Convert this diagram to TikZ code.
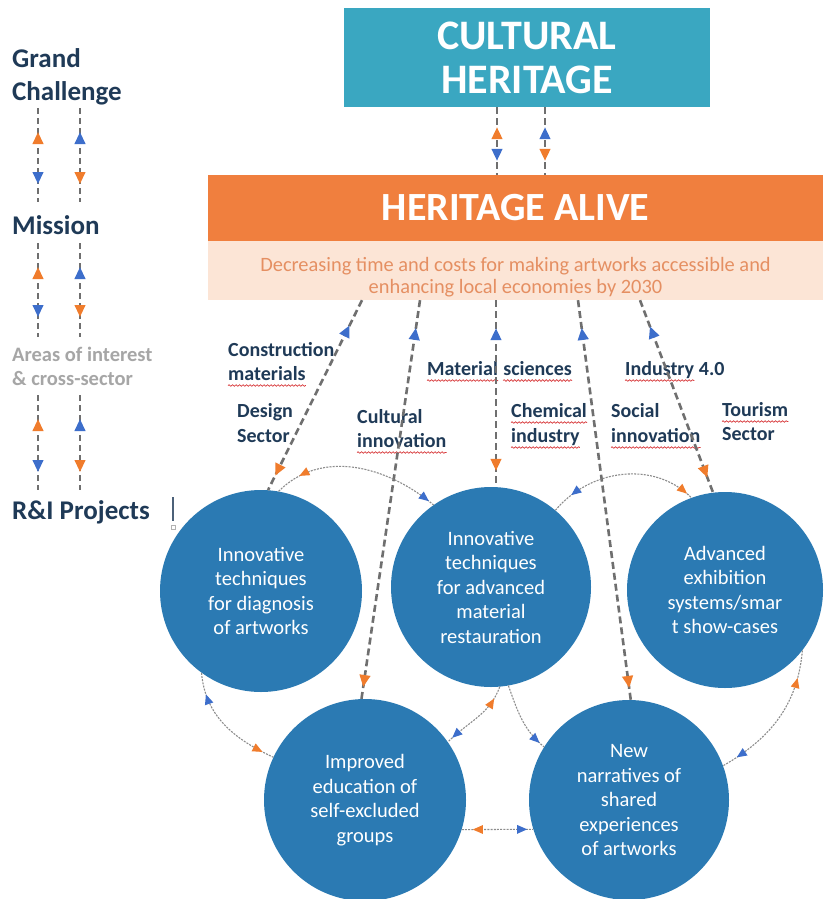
\documentclass[tikz,border=0pt]{standalone}
\usepackage{fontspec}
\setmainfont{Carlito}
\usetikzlibrary{arrows.meta,decorations.markings,decorations.pathmorphing}
\definecolor{chTeal}{HTML}{3AA7C1}
\definecolor{haOrange}{HTML}{F07F3E}
\definecolor{peach}{HTML}{FCE5D6}
\definecolor{peachText}{HTML}{E58F62}
\definecolor{cBlue}{HTML}{2B7AB3}
\definecolor{arOrange}{HTML}{F07C2C}
\definecolor{arBlue}{HTML}{3D6ECB}
\definecolor{navy}{HTML}{1F3A57}
\definecolor{grayTxt}{HTML}{A6A6A6}
\definecolor{lineGray}{HTML}{6F6F6F}
\definecolor{curveGray}{HTML}{8C8C8C}
\definecolor{wavyRed}{HTML}{D8383A}
\tikzset{
  twoway/.style n args={4}{postaction={decorate},decoration={markings,
    mark=at position #2 with {\arrowreversed{Triangle[length=12pt,width=10.5pt,color=#1]}},
    mark=at position -#4 with {\arrow{Triangle[length=12pt,width=10.5pt,color=#3]}}}},
  twowayS/.style n args={4}{postaction={decorate},decoration={markings,
    mark=at position #2 with {\arrowreversed{Triangle[length=10pt,width=8.5pt,color=#1]}},
    mark=at position -#4 with {\arrow{Triangle[length=10pt,width=8.5pt,color=#3]}}}},
  onewayS/.style 2 args={postaction={decorate},decoration={markings,
    mark=at position -#2 with {\arrow{Triangle[length=10pt,width=8.5pt,color=#1]}}}},
  lbl/.style={font=\bfseries\fontsize{27}{31}\selectfont, text=navy, anchor=base west, inner sep=0pt},
  lblg/.style={font=\bfseries\fontsize{20.5}{24}\selectfont, text=grayTxt, anchor=base west, inner sep=0pt},
  sec/.style={font=\bfseries\fontsize{20}{23}\selectfont, text=navy, anchor=base west, inner sep=0pt},
  circ/.style={circle, fill=cBlue, text=white, inner sep=0pt, align=center, font=\fontsize{20.5}{24.5}\selectfont},
  longc/.style={draw=lineGray, line width=2.6pt, dash pattern=on 7pt off 4pt},
  colc/.style={draw=lineGray, line width=2.4pt, dash pattern=on 6pt off 4pt},
  shortc/.style={draw=curveGray, line width=1.1pt, dash pattern=on 2pt off 1.2pt},
  wavy/.style={draw=wavyRed, line width=0.7pt, decorate, decoration={snake, amplitude=0.8pt, segment length=3.5pt}},
}
\begin{document}
\begin{tikzpicture}[x=1pt,y=1pt]
\fill[white] (0,0) rectangle (823,-899);
\useasboundingbox (0,0) rectangle (823,-899);

% left column
\node[lbl] (gc1) at (12,-67) {Grand};
\node[lbl] (gc2) at (12,-100) {Challenge};
\node[lbl] (mis) at (12,-234) {Mission};
\node[lblg] (ar1) at (12,-361) {Areas of interest};
\node[lblg] (ar2) at (12,-385) {\& cross-sector};
\node[lbl] (ri) at (12,-519) {R\&I Projects};
\draw[colc, twoway={arOrange}{24pt}{arBlue}{18pt}] ([xshift=26pt,yshift=-8pt]gc2.base west) -- ([xshift=26pt,yshift=32pt]mis.base west);
\draw[colc, twoway={arBlue}{24pt}{arOrange}{18pt}] ([xshift=68pt,yshift=-8pt]gc2.base west) -- ([xshift=68pt,yshift=32pt]mis.base west);
\draw[colc, twoway={arOrange}{24pt}{arBlue}{20pt}] ([xshift=26pt,yshift=-9pt]mis.base west) -- ([xshift=26pt,yshift=24pt]ar1.base west);
\draw[colc, twoway={arBlue}{24pt}{arOrange}{20pt}] ([xshift=68pt,yshift=-9pt]mis.base west) -- ([xshift=68pt,yshift=24pt]ar1.base west);
\draw[colc, twoway={arOrange}{24pt}{arBlue}{18pt}] ([xshift=26pt,yshift=-10pt]ar2.base west) -- ([xshift=26pt,yshift=29pt]ri.base west);
\draw[colc, twoway={arBlue}{24pt}{arOrange}{18pt}] ([xshift=68pt,yshift=-10pt]ar2.base west) -- ([xshift=68pt,yshift=29pt]ri.base west);
\draw[navy!80, line width=1.2pt] (173,-497) -- (173,-521);
\draw[gray!60, line width=0.4pt] (171,-525) rectangle (175,-529);

% top boxes
\node[fill=chTeal, minimum width=366pt, minimum height=99pt, inner sep=0pt, text=white, align=center,
      font=\bfseries\fontsize{42}{44}\selectfont] (ch) at (527,-57.5) {CULTURAL\\HERITAGE};
\node[fill=haOrange, minimum width=615pt, minimum height=66pt, inner sep=0pt, text=white,
      font=\bfseries\fontsize{40}{44}\selectfont] (ha) at (515.5,-208) {HERITAGE ALIVE};
\node[fill=peach, minimum width=615pt, minimum height=59pt, inner sep=0pt] (band) at (515.5,-270.5) {};
\node[text=peachText, align=center, inner sep=0pt, font=\fontsize{20.4}{22}\selectfont] (goal) at (515.5,-277)
  {Decreasing time and costs for making artworks accessible and\\enhancing local economies by 2030};
\draw[longc, twoway={arOrange}{20pt}{arBlue}{14pt}] ([xshift=-30pt]ch.south) -- ([xshift=-18.5pt]ha.north);
\draw[longc, twoway={arBlue}{20pt}{arOrange}{14pt}] ([xshift=18pt]ch.south) -- ([xshift=29.5pt]ha.north);

% circles
\node[circ, minimum size=202pt] (c1) at (261,-591) {Innovative\\techniques\\for diagnosis\\of artworks};
\node[circ, minimum size=200pt] (c2) at (491,-587) {Innovative\\techniques\\for advanced\\material\\restauration};
\node[circ, minimum size=196pt] (c3) at (725,-590) {Advanced\\exhibition\\systems/smar\\t show-cases};
\node[circ, minimum size=202pt] (c4) at (365,-800) {Improved\\education of\\self-excluded\\groups};
\node[circ, minimum size=200pt] (c5) at (629,-800) {New\\narratives of\\shared\\experiences\\of artworks};

% sector labels
\node[sec] (cm1) at (228,-356) {Construction};
\node[sec] (cm2) at (228,-380) {materials};
\node[sec] (ds1) at (237,-417) {Design};
\node[sec] (ds2) at (237,-442) {Sector};
\node[sec] (ci1) at (357,-423) {Cultural};
\node[sec] (ci2) at (357,-447) {innovation};
\node[sec] (ms1) at (427,-375) {Material};
\node[sec] (ms2) at ([xshift=5pt]ms1.base east) {sciences};
\node[sec] (chm1) at (511,-417) {Chemical};
\node[sec] (chm2) at (511,-442) {industry};
\node[sec] (in1) at (625,-375) {Industry};
\node[sec] (in2) at ([xshift=4.5pt]in1.base east) {4.0};
\node[sec] (so1) at (611,-417) {Social};
\node[sec] (so2) at (611,-442) {innovation};
\node[sec] (to1) at (722,-416) {Tourism};
\node[sec] (to2) at (722,-440) {Sector};
\foreach \n in {cm2,ms1,ms2,in1,chm1,chm2,ci2,so2,to1}
  \draw[wavy] ([yshift=-5.5pt]\n.base west) -- ([yshift=-5.5pt]\n.base east);

% long connectors from mission band
\draw[longc, twoway={arBlue}{28pt}{arOrange}{16pt}] ([xshift=-153.5pt]band.south) -- (c1.86);
\draw[longc, twoway={arBlue}{28pt}{arOrange}{12pt}] ([xshift=-95.5pt]band.south) -- (c4.92);
\draw[longc, twoway={arBlue}{28pt}{arOrange}{16pt}] ([xshift=-19.5pt]band.south) -- ([xshift=-19.5pt]band.south |- c2.north);
\draw[longc, twoway={arBlue}{28pt}{arOrange}{12pt}] ([xshift=62.5pt]band.south) -- (c5.89);
\draw[longc, twoway={arBlue}{28pt}{arOrange}{16pt}] ([xshift=124.5pt]band.south) -- (c3.97);

% curved links between circles
\draw[shortc, twowayS={arOrange}{26pt}{arBlue}{6pt}] (c1.80) to[out=45,in=140] (c2.125);
\draw[shortc, twowayS={arBlue}{22pt}{arOrange}{6pt}] (c2.50) to[out=50,in=135] (c3.110);
\draw[shortc, twowayS={arBlue}{22pt}{arOrange}{12pt}] (c1.234) to[out=275,in=155] (c4.155);
\draw[shortc, twowayS={arOrange}{13pt}{arBlue}{6pt}] (c2.275) to[out=250,in=45] (c4.35);
\draw[shortc, onewayS={arBlue}{6pt}] (c2.280) to[out=-70,in=140] (c5.148);
\draw[shortc, twowayS={arOrange}{28pt}{arBlue}{16pt}] (c3.322) to[out=-95,in=30] (c5.20);
\draw[shortc, twowayS={arOrange}{11pt}{arBlue}{6pt}] (c4.-17) -- (c5.197);
\end{tikzpicture}
\end{document}
